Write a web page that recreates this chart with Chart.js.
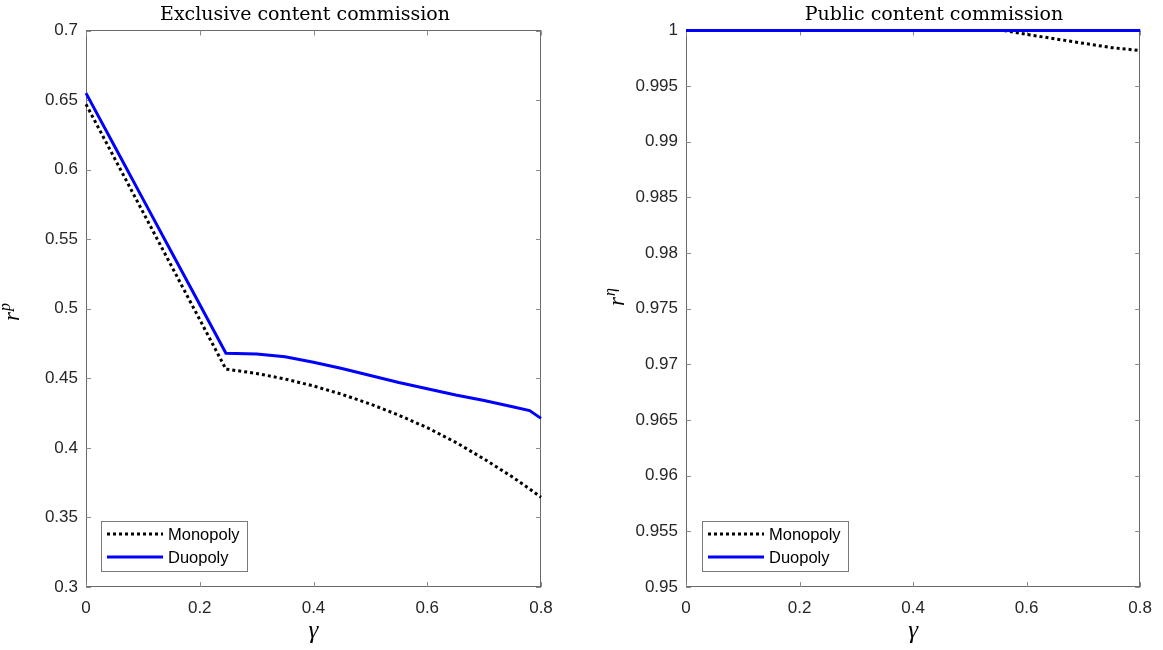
<!DOCTYPE html>
<html><head><meta charset="utf-8">
<script src="https://cdn.jsdelivr.net/npm/chart.js@4.4.1/dist/chart.umd.min.js"></script>
<style>
body{margin:0;background:#fff}
#wrap{position:relative;width:1163px;height:650px;overflow:hidden;background:#fff}
canvas{position:absolute;top:0}
</style>
</head><body>
<div id="wrap">
<canvas id="c1" width="581" height="650" style="left:0px"></canvas>
<canvas id="c2" width="563" height="650" style="left:600px"></canvas>
</div>
<script>
// ---------- data ----------
const seriesNames = ['Monopoly', 'Duopoly'];
const leftTitle = 'Exclusive content commission';
const rightTitle = 'Public content commission';

const xTickValues = [0, 0.2, 0.4, 0.6, 0.8];
const xTickLabels = ['0', '0.2', '0.4', '0.6', '0.8'];

const leftYTickValues = [0.3, 0.35, 0.4, 0.45, 0.5, 0.55, 0.6, 0.65, 0.7];
const leftYTickLabels = ['0.3', '0.35', '0.4', '0.45', '0.5', '0.55', '0.6', '0.65', '0.7'];

const rightYTickValues = [0.95, 0.955, 0.96, 0.965, 0.97, 0.975, 0.98, 0.985, 0.99, 0.995, 1];
const rightYTickLabels = ['0.95', '0.955', '0.96', '0.965', '0.97', '0.975', '0.98', '0.985', '0.99', '0.995', '1'];

const gammaLeft = [0, 0.05, 0.1, 0.15, 0.2, 0.246, 0.3, 0.35, 0.4, 0.45, 0.5, 0.55, 0.6, 0.65, 0.7, 0.75, 0.78, 0.8];
const monoLeft  = [0.647, 0.6083, 0.5696, 0.5309, 0.4922, 0.4566, 0.4535, 0.4495, 0.4445, 0.4385, 0.4315, 0.4235, 0.4145, 0.404, 0.392, 0.379, 0.3705, 0.3645];
const duoLeft   = [0.655, 0.617, 0.579, 0.541, 0.503, 0.468, 0.4675, 0.4655, 0.4615, 0.457, 0.452, 0.447, 0.4425, 0.438, 0.434, 0.4295, 0.4268, 0.4212];

const gammaRight = [0, 0.1, 0.2, 0.3, 0.4, 0.5, 0.56, 0.6, 0.65, 0.7, 0.75, 0.8];
const monoRight  = [1, 1, 1, 1, 1, 1, 1, 0.99965, 0.99925, 0.99885, 0.99846, 0.9982];
const duoRight   = [1, 1, 1, 1, 1, 1, 1, 1, 1, 1, 1, 1];

// ---------- helpers ----------
function pts(xs, ys) { return xs.map((x, i) => ({x: x, y: ys[i]})); }

const framePlugin = {
  id: 'frame',
  beforeDatasetsDraw(chart) {
    const ctx = chart.ctx, a = chart.chartArea;
    const xs = chart.scales.x, ys = chart.scales.y;
    ctx.save();
    ctx.strokeStyle = '#6a6a6a';
    ctx.lineWidth = 1;
    ctx.strokeRect(Math.round(a.left) + 0.5, Math.floor(a.top) + 0.5, Math.round(a.right - a.left) - 1, Math.round(a.bottom) - Math.floor(a.top) - 1);
    ctx.strokeStyle = '#8a8a8a';
    const tl = 5;
    ctx.beginPath();
    xs.ticks.forEach(t => {
      const p = Math.round(xs.getPixelForValue(t.value)) + 0.5;
      ctx.moveTo(p, a.bottom); ctx.lineTo(p, a.bottom - tl);
      ctx.moveTo(p, a.top); ctx.lineTo(p, a.top + tl);
    });
    ys.ticks.forEach(t => {
      const p = Math.round(ys.getPixelForValue(t.value)) + 0.5;
      ctx.moveTo(a.left, p); ctx.lineTo(a.left + tl, p);
      ctx.moveTo(a.right, p); ctx.lineTo(a.right - tl, p);
    });
    ctx.stroke();
    ctx.restore();
  },
  afterDatasetsDraw(chart, args, o) {
    const ctx = chart.ctx, a = chart.chartArea;
    ctx.save();
    // title
    ctx.fillStyle = '#000';
    ctx.font = '19px "DejaVu Serif"';
    ctx.textAlign = 'center';
    ctx.textBaseline = 'alphabetic';
    ctx.fillText(o.title, o.titleX, 20);
    // x label
    ctx.font = 'italic 25px "Liberation Serif"';
    ctx.fillText('\u03b3', (a.left + a.right) / 2, 638);
    // y label (rotated)
    ctx.translate(o.yLabelX, o.yLabelY);
    ctx.rotate(-Math.PI / 2);
    ctx.textAlign = 'left';
    ctx.font = 'italic 23px "Liberation Serif"';
    const rw = ctx.measureText('r').width;
    ctx.font = 'italic 16px "Liberation Serif"';
    const sw = ctx.measureText(o.yLabelSup).width;
    const total = rw + sw + 1;
    ctx.font = 'italic 23px "Liberation Serif"';
    ctx.fillText('r', -total / 2, 7);
    ctx.font = 'italic 16px "Liberation Serif"';
    ctx.fillText(o.yLabelSup, -total / 2 + rw + 1, -2);
    ctx.restore();

    // legend
    ctx.save();
    const lx = a.left + o.legendDx, ly = 521, lw = 146, lh = 50;
    ctx.fillStyle = '#fff';
    ctx.fillRect(lx, ly, lw, lh);
    ctx.strokeStyle = '#7a7a7a';
    ctx.lineWidth = 1;
    ctx.strokeRect(Math.round(lx) + 0.5, ly + 0.5, lw, lh);
    ctx.font = '16.5px "Liberation Sans"';
    ctx.textBaseline = 'middle';
    ctx.textAlign = 'left';
    chart.data.datasets.forEach((ds, i) => {
      const yy = ly + 13 + i * 23;
      ctx.save();
      ctx.strokeStyle = ds.borderColor;
      ctx.lineWidth = ds.borderWidth;
      ctx.setLineDash(ds.borderDash || []);
      ctx.beginPath();
      ctx.moveTo(lx + 6, yy); ctx.lineTo(lx + 62, yy);
      ctx.stroke();
      ctx.restore();
      ctx.fillStyle = '#000';
      ctx.fillText(ds.label, lx + 67, yy + 1);
    });
    ctx.restore();
  }
};

function makeChart(id, xVals, monoY, duoY, xV, yTickVals, yTickLabels, yMin, yMax, padRight, frameOpts) {
  const ctx = document.getElementById(id);
  return new Chart(ctx, {
    type: 'line',
    data: {
      datasets: [
        { label: seriesNames[0], data: pts(xVals, monoY), borderColor: '#000000', borderWidth: 3, borderDash: [3, 3], pointRadius: 0, tension: 0, fill: false, clip: 3, order: 2 },
        { label: seriesNames[1], data: pts(xV, duoY), borderColor: '#0000ff', borderWidth: 3, pointRadius: 0, tension: 0, fill: false, clip: 3, order: 1 }
      ]
    },
    options: {
      responsive: false,
      animation: false,
      devicePixelRatio: 1,
      layout: { padding: { left: 0, right: padRight, top: 30.5, bottom: 0 } },
      plugins: { legend: { display: false }, tooltip: { enabled: false }, title: { display: false }, frame: frameOpts },
      scales: {
        x: {
          type: 'linear', min: 0, max: 0.8,
          grid: { display: false, drawTicks: false },
          border: { display: false },
          afterBuildTicks: s => { s.ticks = xTickValues.map(v => ({ value: v })); },
          afterFit: s => { s.height = 63; },
          ticks: { padding: 11, color: '#262626', font: { family: 'Liberation Sans', size: 17 }, maxRotation: 0,
                   callback: (v, i) => xTickLabels[i] }
        },
        y: {
          type: 'linear', min: yMin, max: yMax,
          grid: { display: false, drawTicks: false },
          border: { display: false },
          afterBuildTicks: s => { s.ticks = yTickVals.map(v => ({ value: v })); },
          afterFit: s => { s.width = 86; },
          ticks: { padding: 8, color: '#262626', font: { family: 'Liberation Sans', size: 17 },
                   callback: (v, i) => yTickLabels[i] }
        }
      }
    },
    plugins: [framePlugin]
  });
}

makeChart('c1', gammaLeft, monoLeft, duoLeft, gammaLeft, leftYTickValues, leftYTickLabels, 0.3, 0.7, 40,
  { title: leftTitle, titleX: 305, yLabelX: 12, yLabelY: 312, yLabelSup: 'p', legendDx: 15 });
makeChart('c2', gammaRight, monoRight, duoRight, gammaRight, rightYTickValues, rightYTickLabels, 0.95, 1, 21,
  { title: rightTitle, titleX: 334, yLabelX: 17, yLabelY: 297, yLabelSup: '\u03b7', legendDx: 16 });
</script>
</body></html>
